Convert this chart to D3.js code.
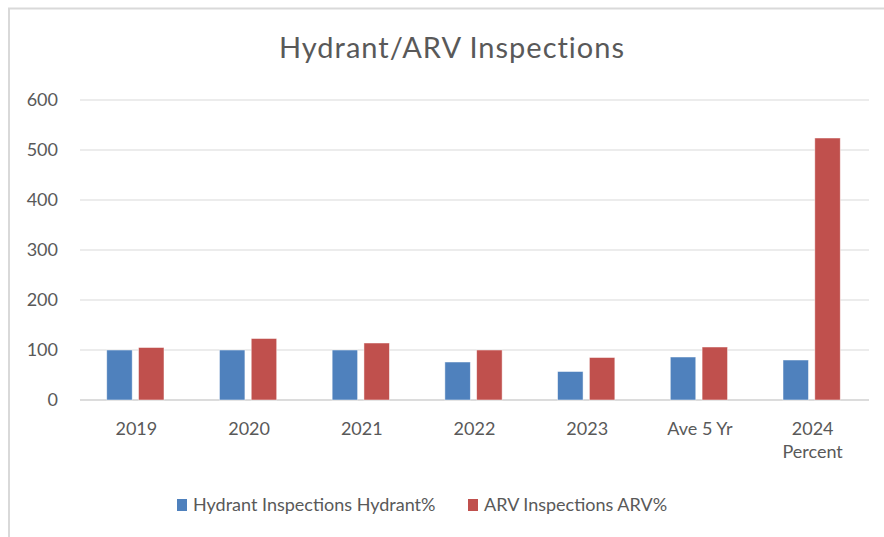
<!DOCTYPE html>
<html>
<head>
<meta charset="utf-8">
<script src="https://cdn.jsdelivr.net/npm/d3@7"></script>
<style>
  body { margin: 0; background: #fff; }
  text { font-family: Lato, "Open Sans", sans-serif; fill: #595959; }
</style>
</head>
<body>
<div id="chart"></div>
<script>
// data
const categories = ["2019", "2020", "2021", "2022", "2023", "Ave 5 Yr", "2024\nPercent"];
const hydrantPct = [100, 100, 100, 76, 57, 86, 80];
const arvPct = [105, 123, 114, 100, 85, 106, 524];
const seriesNames = ["Hydrant Inspections Hydrant%", "ARV Inspections ARV%"];
const seriesColors = ["#4f81bd", "#c0504d"];
const yTicks = [0, 100, 200, 300, 400, 500, 600];

const W = 884, H = 537;
const margin = { top: 100, right: 15, bottom: 137, left: 80 };
const width = W - margin.left - margin.right;
const height = H - margin.top - margin.bottom;

const svg = d3.select("#chart").append("svg")
  .attr("width", W).attr("height", H);

// chart frame (only top/left edges visible in the crop)
svg.append("path")
  .attr("d", "M9,537 V8.5 H884")
  .attr("fill", "none")
  .attr("stroke", "#d9d9d9")
  .attr("stroke-width", 2);

svg.append("text")
  .attr("x", 452).attr("y", 58)
  .attr("text-anchor", "middle")
  .attr("font-size", "29px")
  .attr("letter-spacing", "1px")
  .text("Hydrant/ARV Inspections");

const plot = svg.append("g")
  .attr("transform", "translate(" + margin.left + "," + margin.top + ")");

const x0 = d3.scaleBand().domain(categories).range([0, width]);
const y = d3.scaleLinear().domain([0, 600]).range([height, 0]);

const barW = x0.bandwidth() * 0.226;
const gap = x0.bandwidth() * 0.056;

// gridlines
plot.selectAll(".grid")
  .data(yTicks)
  .join("line")
  .attr("class", "grid")
  .attr("x1", 0).attr("x2", width)
  .attr("y1", d => y(d)).attr("y2", d => y(d))
  .attr("stroke", d => d === 0 ? "#d0d0d0" : "#d9d9d9")
  .attr("stroke-width", d => d === 0 ? 1.5 : 1);

// y labels
plot.selectAll(".ylab")
  .data(yTicks)
  .join("text")
  .attr("class", "ylab")
  .attr("x", -22)
  .attr("y", d => y(d))
  .attr("dy", "0.36em")
  .attr("text-anchor", "end")
  .attr("font-size", "18px")
  .text(d => d);

// bars
const series = [hydrantPct, arvPct];
series.forEach(function (vals, s) {
  plot.selectAll(".bar" + s)
    .data(vals)
    .join("rect")
    .attr("class", "bar" + s)
    .attr("x", (d, i) => x0(categories[i]) + x0.bandwidth() / 2 - barW - gap / 2 + s * (barW + gap) - 1)
    .attr("y", d => y(d))
    .attr("width", barW)
    .attr("height", d => y(0) - y(d))
    .attr("fill", seriesColors[s])
    .attr("stroke", "#ffffff")
    .attr("stroke-opacity", 0.6)
    .attr("stroke-width", 0.8);
});

// x labels
const xl = plot.selectAll(".xlab")
  .data(categories)
  .join("text")
  .attr("class", "xlab")
  .attr("x", d => x0(d) + x0.bandwidth() / 2)
  .attr("y", height + 35)
  .attr("text-anchor", "middle")
  .attr("font-size", "18px");
xl.each(function (d) {
  const t = d3.select(this);
  d.split("\n").forEach(function (line, k) {
    t.append("tspan")
      .attr("x", x0(d) + x0.bandwidth() / 2)
      .attr("dy", k === 0 ? 0 : 23)
      .text(line);
  });
});

// legend
const legendX = [177, 468];
const lg = svg.selectAll(".leg")
  .data(seriesNames)
  .join("g")
  .attr("class", "leg")
  .attr("transform", (d, i) => "translate(" + legendX[i] + ",499)");
lg.append("rect")
  .attr("width", 10).attr("height", 12)
  .attr("fill", (d, i) => seriesColors[i]);
lg.append("text")
  .attr("x", 16).attr("y", 6)
  .attr("dy", "0.36em")
  .attr("font-size", "18px")
  .text(d => d);
</script>
</body>
</html>
